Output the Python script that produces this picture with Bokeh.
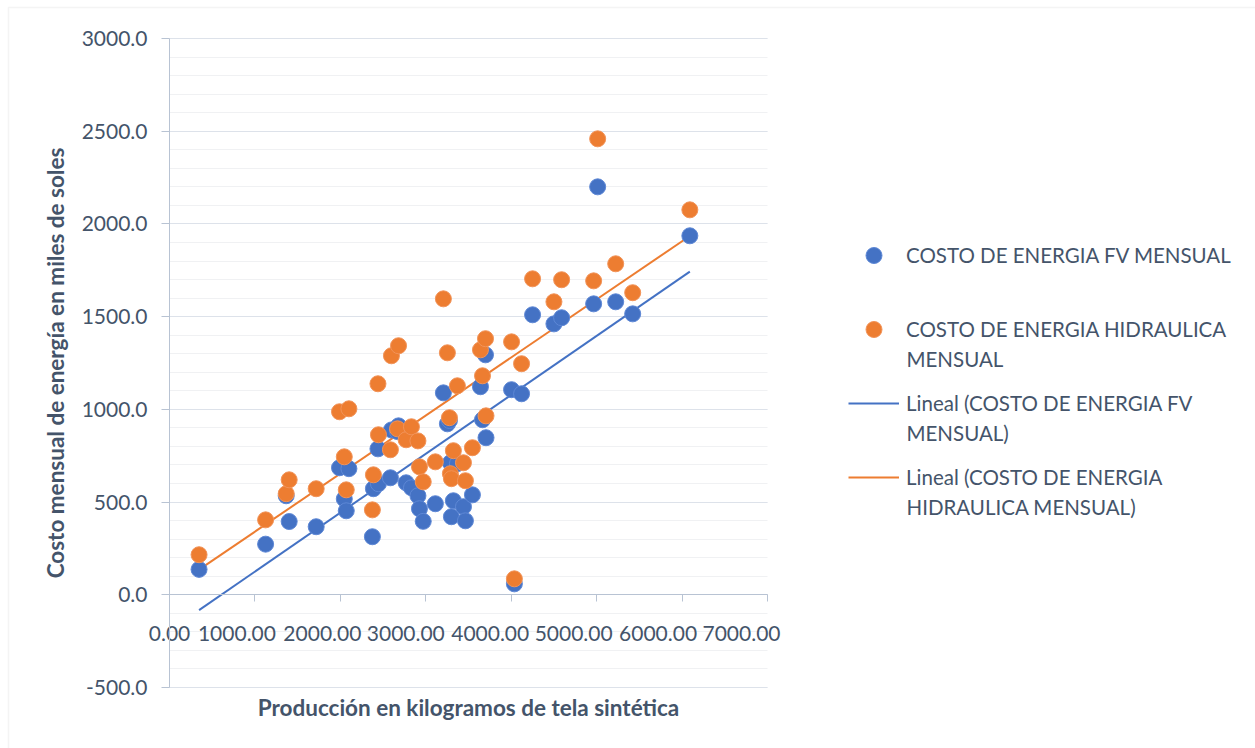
import numpy as np
from bokeh.plotting import figure
from bokeh.models import (Range1d, SingleIntervalTicker, NumeralTickFormatter,
                          CustomJSTickFormatter, Legend, LegendItem, Label,
                          BoxAnnotation, Grid)
from bokeh.core.properties import value
from bokeh.embed import file_html
from bokeh.resources import INLINE

# Monthly production (kg of synthetic fabric) and energy cost (thousand soles)
produccion = [346, 1125, 1366, 1401, 1717, 1990, 2046, 2069, 2100, 2375, 2387, 2440,
              2446, 2586, 2598, 2669, 2681, 2770, 2832, 2908, 2926, 2970, 3112, 3206,
              3253, 3277, 3288, 3300, 3323, 3370, 3441, 3464, 3546, 3640, 3664, 3699,
              3705, 4004, 4037, 4121, 4250, 4500, 4590, 4965, 5012, 5223, 5422, 6091]
costo_fv = [137, 273, 534, 395, 367, 685, 517, 453, 680, 313, 572, 787,
            599, 631, 889, 880, 911, 604, 577, 534, 464, 396, 491, 1089,
            922, 940, 712, 421, 507, 707, 475, 399, 539, 1122, 944, 1294,
            847, 1106, 59, 1084, 1510, 1461, 1494, 1569, 2200, 1580, 1515, 1936]
costo_hid = [216, 404, 545, 620, 572, 987, 744, 566, 1003, 458, 647, 1138,
             863, 782, 1289, 895, 1343, 836, 906, 830, 690, 609, 717, 1596,
             1305, 955, 653, 626, 777, 1127, 712, 615, 793, 1321, 1181, 1381,
             965, 1364, 86, 1246, 1704, 1580, 1699, 1693, 2459, 1785, 1629, 2076]

nombre_fv = "COSTO DE ENERGIA FV MENSUAL"
x_ticks = [0, 1000, 2000, 3000, 4000, 5000, 6000, 7000]
x_lim = (0, 7000)
y_lim = (-500, 3000)

AZUL = "#4472C4"
NARANJA = "#ED7D31"
TEXTO = "#44546A"
EJE = "#B8C3D3"
FUENTE = "Lato"

# page size and where the plotting area sits on it (pixels)
W, H = 1255, 748
AX_L, AX_R, AX_T, AX_B = 169, 767, 38, 687

# the drawing frame covers the whole page; the ranges are stretched so that
# the plotting area lands at AX_L..AX_R / AX_T..AX_B
ux = (x_lim[1] - x_lim[0]) / (AX_R - AX_L)
uy = (y_lim[1] - y_lim[0]) / (AX_B - AX_T)
x_range = Range1d(x_lim[0] - AX_L * ux, x_lim[0] + (W - AX_L) * ux)
y_range = Range1d(y_lim[0] - (H - AX_B) * uy, y_lim[1] + AX_T * uy)

p = figure(width=W, height=H, min_border=0, x_range=x_range, y_range=y_range,
           output_backend="svg", toolbar_location=None,
           background_fill_color="white", border_fill_color="white")
p.outline_line_color = None

# y axis at x = 0: major every 500, light minor gridlines every 100
yax = p.yaxis[0]
yax.fixed_location = 0
yax.bounds = y_lim
yax.ticker = SingleIntervalTicker(interval=500, num_minor_ticks=5)
yax.formatter = NumeralTickFormatter(format="0.0")
yax.axis_line_color = EJE
yax.major_tick_line_color = EJE
yax.major_tick_in = 0
yax.major_tick_out = 8
yax.minor_tick_in = 0
yax.minor_tick_out = 0
yax.major_label_standoff = 14
yax.major_label_text_font = FUENTE
yax.major_label_text_font_size = "21px"
yax.major_label_text_color = TEXTO
yax.axis_label = "Costo mensual de energía en miles de soles"
yax.axis_label_text_font = FUENTE
yax.axis_label_text_font_style = "bold"
yax.axis_label_text_font_size = "22.5px"
yax.axis_label_text_color = TEXTO
yax.axis_label_standoff = 10

# x axis crossing at y = 0; its labels are set as a packed row below it
xax = p.xaxis[0]
xax.fixed_location = 0
xax.bounds = x_lim
xax.ticker = x_ticks
xax.formatter = CustomJSTickFormatter(code="return ''")
xax.axis_line_color = EJE
xax.major_tick_line_color = EJE
xax.major_tick_in = 0
xax.major_tick_out = 7
xax.minor_tick_in = 0
xax.minor_tick_out = 0

desplaz = [0, -18, -18, -20, -21, -23, -24, -26]
p.text(x=x_ticks, y=[0] * len(x_ticks), text=[f"{v:.2f}" for v in x_ticks],
       x_offset=desplaz, y_offset=39, text_align="center", text_baseline="alphabetic",
       text_font=value(FUENTE), text_font_size="21px", text_color=TEXTO)

p.xgrid.visible = False
p.ygrid.visible = False
ticks_y = np.arange(y_lim[0], y_lim[1] + 1, 100)
if "cross_bounds" in Grid.properties():
    g = p.ygrid[0]
    g.visible = True
    g.bounds = y_lim
    g.cross_bounds = x_lim
    g.grid_line_color = "#DDE2EA"
    g.minor_grid_line_color = "#F0F1F3"
else:
    menores = [t for t in ticks_y if t % 500 != 0]
    mayores = [t for t in ticks_y if t % 500 == 0 and t != 0]
    p.segment(x0=x_lim[0], x1=x_lim[1], y0=menores, y1=menores,
              line_color="#F0F1F3", line_width=1, level="underlay")
    p.segment(x0=x_lim[0], x1=x_lim[1], y0=mayores, y1=mayores,
              line_color="#DDE2EA", line_width=1, level="underlay")

p.add_layout(Label(x=(AX_L + AX_R) / 2, y=H - 707, x_units="screen", y_units="screen",
                   text="Producción en kilogramos de tela sintética",
                   text_font=FUENTE, text_font_style="bold", text_font_size="22.5px",
                   text_color=TEXTO, text_align="center", text_baseline="middle"))

# linear trend lines (least squares)
xs = np.array(produccion, dtype=float)
x_tr = np.array([xs.min(), xs.max()])
m_fv, b_fv = np.polyfit(xs, np.array(costo_fv, dtype=float), 1)
m_hd, b_hd = np.polyfit(xs, np.array(costo_hid, dtype=float), 1)
r_tfv = p.line(x_tr, m_fv * x_tr + b_fv, line_color=AZUL, line_width=2)
r_thd = p.line(x_tr, m_hd * x_tr + b_hd, line_color=NARANJA, line_width=2)

r_fv = p.scatter(produccion, costo_fv, size=16, fill_color=AZUL,
                 line_color="#5E88D6", line_width=1)
r_hd = p.scatter(produccion, costo_hid, size=16, fill_color=NARANJA,
                 line_color="#F29358", line_width=1)

# legend: first lines in the legend, continuation lines as labels
legend = Legend(items=[
    LegendItem(label=nombre_fv, renderers=[r_fv]),
    LegendItem(label="COSTO DE ENERGIA HIDRAULICA", renderers=[r_hd]),
    LegendItem(label="Lineal (COSTO DE ENERGIA FV", renderers=[r_tfv]),
    LegendItem(label="Lineal (COSTO DE ENERGIA", renderers=[r_thd]),
], location=(848, H - 497), orientation="vertical",
    glyph_width=51, glyph_height=40, label_height=40, label_standoff=7,
    spacing=34, padding=0, margin=0, border_line_alpha=0, background_fill_alpha=0,
    label_text_font=FUENTE, label_text_font_size="20.5px", label_text_color=TEXTO)
p.add_layout(legend)

for txt, ypx in [("MENSUAL", 358), ("MENSUAL)", 432), ("HIDRAULICA MENSUAL)", 506)]:
    p.add_layout(Label(x=906, y=H - ypx, x_units="screen", y_units="screen",
                       text=txt, text_font=FUENTE, text_font_size="20.5px",
                       text_color=TEXTO, text_baseline="middle"))

# chart area border (left and top edges fall inside the page)
p.add_layout(BoxAnnotation(left=8, right=W + 50, top=H - 7, bottom=-50,
                           left_units="screen", right_units="screen",
                           top_units="screen", bottom_units="screen",
                           fill_alpha=0, line_color="#D9D9D9", line_width=1.5))

open("out.html", "w").write(file_html(p, INLINE))
